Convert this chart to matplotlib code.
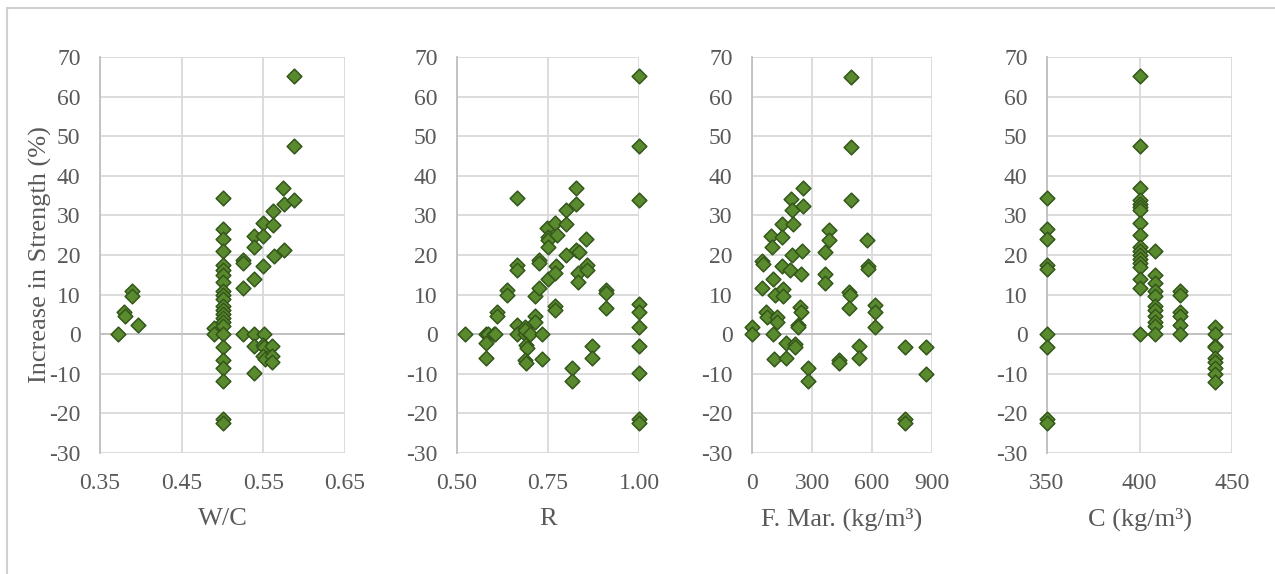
import matplotlib.pyplot as plt
from matplotlib.patches import Rectangle

plt.rcParams['font.family'] = ['Liberation Serif', 'DejaVu Serif']
plt.rcParams['axes.unicode_minus'] = False

# === Data ===
# W/C panel
wc_x = [0.372, 0.379, 0.380, 0.389, 0.389, 0.396,
        0.489, 0.489,
        0.50, 0.50, 0.50, 0.50, 0.50, 0.50, 0.50, 0.50, 0.50, 0.50, 0.50, 0.50,
        0.50, 0.50, 0.50, 0.50, 0.50, 0.50, 0.50, 0.50, 0.50, 0.50, 0.50, 0.50,
        0.525, 0.525, 0.525, 0.525,
        0.538, 0.538, 0.538, 0.539, 0.539, 0.539,
        0.55, 0.55, 0.55, 0.551, 0.55, 0.551, 0.55, 0.552,
        0.562, 0.562, 0.563, 0.561, 0.560, 0.560,
        0.574, 0.575, 0.575,
        0.587, 0.587, 0.588]
wc_y = [0, 5.5, 4.5, 11.0, 9.7, 2.2,
        1.6, 0,
        34.3, 26.5, 24.0, 21.0, 17.5, 16.2, 15.0, 13.3, 11.0, 10.0, 9.0, 7.0,
        6.0, 5.0, 4.0, 3.0, 2.0, 0, -3.3, -6.5, -8.6, -11.9, -21.4, -22.4,
        18.7, 17.9, 11.6, 0,
        24.9, 22.1, 13.9, 0, -3.0, -9.8,
        28.2, 24.8, 17.2, 0, -2.7, -3.3, -5.6, -6.3,
        31.2, 27.7, 19.7, -3.0, -5.6, -7.1,
        37.0, 32.8, 21.3,
        65.2, 47.5, 33.9]

# R panel
r_x = [0.523, 0.581, 0.584, 0.580, 0.580, 0.602, 0.604, 0.611, 0.611,
       0.636, 0.636, 0.666, 0.666, 0.666, 0.666, 0.665,
       0.686, 0.686, 0.688, 0.690, 0.691, 0.688, 0.690, 0.700,
       0.713, 0.713, 0.714, 0.725, 0.726, 0.726, 0.734, 0.734,
       0.748, 0.750, 0.750, 0.750, 0.750,
       0.768, 0.776, 0.771, 0.768, 0.768, 0.768,
       0.800, 0.800, 0.800,
       0.826, 0.827, 0.827, 0.835, 0.833, 0.833, 0.817, 0.817,
       0.855, 0.857, 0.856, 0.871, 0.871,
       0.908, 0.908, 0.908,
       1.0, 1.0, 1.0, 1.0, 1.0, 1.0, 1.0, 1.0, 1.0, 1.0]
r_y = [0, 0, 0, -2.3, -6.0, 0, 0, 5.5, 4.5,
       11.2, 9.8, 34.3, 17.6, 16.2, 2.4, 0,
       1.8, 0, 1.0, -2.7, -3.5, -6.6, -7.3, 0,
       9.7, 4.6, 3.2, 18.7, 17.9, 11.6, 0, -6.3,
       26.7, 24.6, 23.8, 22.1, 13.9,
       28.2, 25.0, 17.2, 15.4, 7.0, 6.0,
       31.3, 27.8, 20.0,
       37.0, 32.8, 21.3, 20.8, 15.4, 13.3, -8.6, -11.9,
       24.0, 17.5, 16.2, -3.0, -6.0,
       11.2, 10.3, 6.7,
       65.2, 47.5, 33.9, 7.6, 5.7, 1.8, -3.1, -9.8, -21.4, -22.3]

# F. Mar. panel
fm_x = [0, 0, 50, 53, 50, 72, 75, 105, 108, 97, 100, 103,
        117, 125, 125, 150, 150, 150, 155, 155, 172, 172,
        197, 200, 203, 200, 192, 217, 213, 230, 230, 242, 245, 247, 250,
        255, 255, 280, 280,
        363, 367, 363, 383, 387, 433, 437,
        487, 488, 487, 495, 495, 497, 533, 533,
        575, 578, 578, 613, 613, 613,
        767, 767, 767, 870, 870]
fm_y = [1.8, 0, 18.5, 17.8, 11.6, 5.6, 4.3, 0, -6.3, 24.8, 22.0, 13.9,
        9.8, 4.3, 3.1, 27.9, 24.6, 17.3, 11.3, 9.6, -2.1, -6.1,
        34.1, 31.3, 27.8, 20.0, 16.1, -2.4, -3.2, 2.3, 1.8, 6.8, 5.6, 15.2, 21.0,
        36.9, 32.5, -8.6, -11.9,
        20.8, 15.2, 12.9, 26.4, 23.9, -6.5, -7.3,
        10.7, 9.8, 6.6, 65.0, 47.3, 33.8, -3.0, -6.1,
        23.9, 17.3, 16.4, 7.4, 5.6, 1.8,
        -3.2, -21.3, -22.5, -3.3, -10.1]

# C panel
c_x = [350] * 9 + [400] * 18 + [408.5] * 11 + [422] * 6 + [441] * 9
c_y = [34.3, 26.5, 24.0, 17.5, 16.5, 0, -3.3, -21.5, -22.5,
       65.2, 47.5, 37.0, 34.0, 33.0, 32.0, 31.3, 28.0, 25.0, 22.0, 21.0, 20.0,
       19.0, 18.0, 17.0, 14.0, 11.6, 0,
       21.0, 15.0, 13.0, 11.0, 9.7, 7.0, 6.0, 4.5, 3.0, 2.0, 0,
       11.0, 9.8, 5.5, 4.5, 2.3, 0,
       1.8, 0, -3.0, -3.3, -6.0, -7.0, -8.5, -10.0, -12.0]

panels = [
    (wc_x, wc_y, "W/C", (0.35, 0.65), [0.35, 0.45, 0.55, 0.65], ["0.35", "0.45", "0.55", "0.65"]),
    (r_x, r_y, "R", (0.5, 1.0), [0.5, 0.75, 1.0], ["0.50", "0.75", "1.00"]),
    (fm_x, fm_y, "F. Mar. (kg/m³)", (0, 900), [0, 300, 600, 900], ["0", "300", "600", "900"]),
    (c_x, c_y, "C (kg/m³)", (350, 450), [350, 400, 450], ["350", "400", "450"]),
]

# axes edges in pixels
H = 574
W = 1275
boxes = [(100, 345), (457, 639), (752, 932), (1047, 1232)]

fig = plt.figure(figsize=(12.75, 5.74), dpi=100)
fig.patches.append(Rectangle((7 / W, -0.1), 1.2, (H - 8) / H + 0.1, transform=fig.transFigure,
                             fill=False, edgecolor="#d0d0d0", linewidth=1.5, zorder=0))

TXT = "#595959"
for i, ((x, y, xlabel, xlim, xt, xtl), (x0, x1)) in enumerate(zip(panels, boxes)):
    ax = fig.add_axes([x0 / W, (H - 453) / H, (x1 - x0) / W, 396 / H])
    ax.set_axisbelow(True)
    ax.grid(True, color="#d9d9d9", linewidth=1.3)
    ax.axhline(0, color="#bfbfbf", linewidth=1.3, zorder=1)
    ax.scatter(x, y, marker="D", s=56, facecolor="#5a8a2e", edgecolor="#33561a",
               linewidth=1.1, zorder=3, clip_on=False)
    ax.set_xlim(*xlim)
    ax.set_ylim(-30, 70)
    ax.set_xticks(xt)
    ax.set_xticklabels(xtl)
    ax.set_yticks(range(-30, 71, 10))
    for s in ["top", "right", "bottom"]:
        ax.spines[s].set_visible(False)
    ax.spines["left"].set_color("#bfbfbf")
    ax.spines["left"].set_linewidth(1.3)
    ax.tick_params(length=0, labelsize=17, labelcolor=TXT)
    ax.tick_params(axis="y", pad=14)
    ax.tick_params(axis="x", pad=14.5)
    ax.set_xlabel(xlabel, fontsize=19, color=TXT, labelpad=10)

fig.text(40 / W, 1 - 255 / H, "Increase in Strength (%)", rotation=90, fontsize=19,
         color=TXT, ha="center", va="center")

fig.savefig("out.png", dpi=100)
